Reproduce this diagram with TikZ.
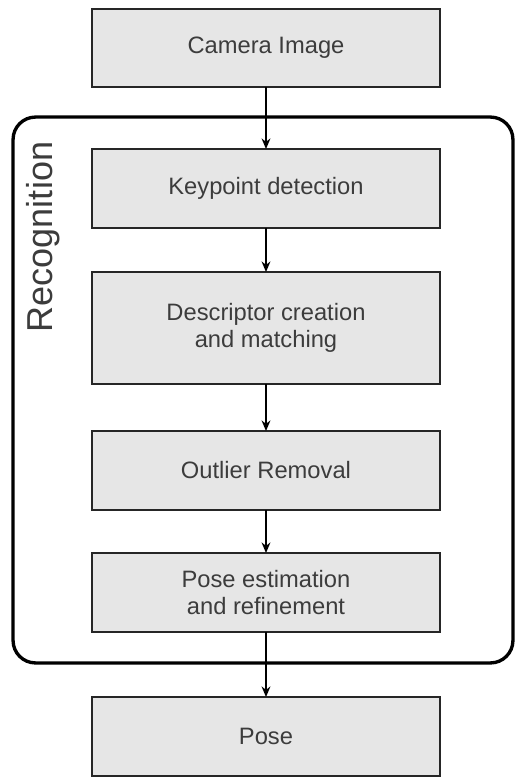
\documentclass[tikz,border=0pt]{standalone}
\usepackage{fontspec}
\setmainfont{Liberation Sans}
\usepackage{tikz}
\usetikzlibrary{calc,shapes,arrows.meta,positioning}
\definecolor{boxfill}{HTML}{E6E6E6}
\definecolor{boxtext}{HTML}{3C3C3C}
\tikzstyle{stage}=[draw=black!85,line width=0.9pt,fill=boxfill,text=boxtext,
  inner sep=0pt,outer sep=0pt,minimum width=6.96cm,minimum height=1.58cm,
  align=center,font=\fontsize{13.5}{15.5}\selectfont]
\tikzstyle{every edge}=[-{Stealth[length=6pt,width=5pt]},line width=1.1pt,draw=black]

\begin{document}
\begin{tikzpicture}[x=0.02cm,y=-0.02cm]
        \useasboundingbox (0,0) rectangle (528,782);

        % Recognition frame:
        \node (recog) [draw=black,line width=1.9pt,rounded corners=0.45cm,
          minimum width=10cm,minimum height=10.92cm,inner sep=0pt] at (263,390) {};
        \node (recog_lbl) [rotate=90,text=boxtext,font=\fontsize{20.5}{24}\selectfont]
          at (43,237) {Recognition};

        % First line:
        \node (cam) [stage,minimum height=1.56cm] at (266,48) {Camera Image};
        % Inside the frame:
        \node (kp) [stage] at (266,188.5) {Keypoint detection};
        \node (desc) [stage,minimum height=2.24cm] at (266,328) {Descriptor creation\\and matching};
        \node (outl) [stage] at (266,470.5) {Outlier Removal};
        \node (est) [stage] at (266,592.5) {Pose estimation\\and refinement};
        % Last line:
        \node (pose) [stage] at (266,736.5) {Pose};

        \path
        (cam) edge (kp)
        (kp) edge (desc)
        (desc) edge (outl)
        (outl) edge (est)
        (est) edge (pose);
\end{tikzpicture}
\end{document}
